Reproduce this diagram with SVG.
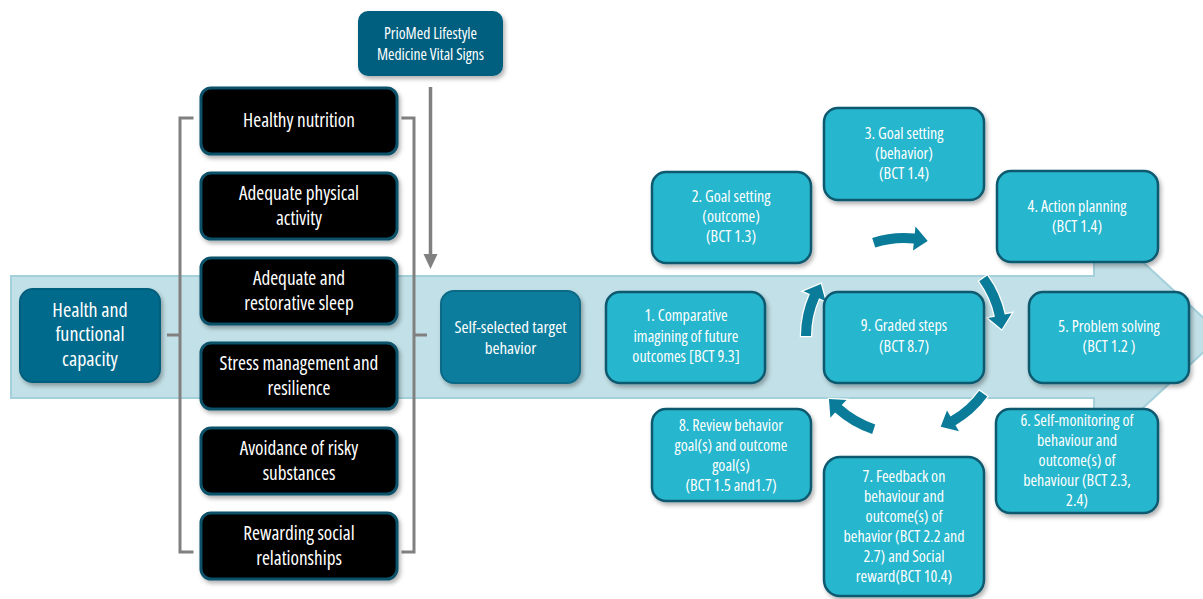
<svg xmlns="http://www.w3.org/2000/svg" width="1203" height="599" viewBox="0 0 1203 599">
<defs>
<filter id="sh" x="-10%" y="-10%" width="125%" height="130%">
<feDropShadow dx="2" dy="3" stdDeviation="2" flood-color="#000" flood-opacity="0.3"/>
</filter>
<path id="carrow" d="M1007,336 A103,103 0 0 1 998.09,377.89 L1004.49,380.74 L987.10,387.93 L982.56,370.98 L988.96,373.82 A93,93 0 0 0 997,336 Z"/>
</defs>
<style>
text{font-family:'Open Sans','DejaVu Sans Condensed',sans-serif;font-stretch:condensed;fill:#fff;text-anchor:middle}
.blk{fill:#000;stroke:#0b5169;stroke-width:3;filter:url(#sh)}
.cyc{fill:#28b6cd;stroke:#0e5a70;stroke-width:2.5;filter:url(#sh)}
.dark{fill:#005f7f;filter:url(#sh)}
.mid{fill:#046b8c;stroke:#045e7b;stroke-width:2;filter:url(#sh)}
.sel{fill:#0b7d9d;stroke:#086a87;stroke-width:2;filter:url(#sh)}
.bt{font-size:19.2px}
.ct{font-size:16px}
.brk{fill:none;stroke:#808080;stroke-width:3}
.ca{fill:#0a7b98;stroke:#fff;stroke-width:2.5;paint-order:stroke}
</style>
<rect width="1203" height="599" fill="#fff"/>
<g id="band">
<polygon points="11,276 1094,276 1094,217 1222,335 1094,453 1094,398 11,398" fill="#c2e0e7" stroke="#a3d0db" stroke-width="2"/>
</g>
<g id="connectors">
<path class="brk" d="M193.5,118 H180 V552 H193.5 M180,335 H167"/>
<path class="brk" d="M401.5,118 H414 V552 H401.5 M414,335 H427"/>
<line x1="430.5" y1="87" x2="430.5" y2="255" stroke="#808080" stroke-width="3.5"/>
<polygon points="423.5,254 437.5,254 430.5,269" fill="#808080"/>
<use href="#carrow" class="ca" transform="rotate(180 904 336)"/>
<use href="#carrow" class="ca" transform="rotate(252 904 336)"/>
<use href="#carrow" class="ca" transform="rotate(324 904 336)"/>
<use href="#carrow" class="ca" transform="rotate(36 904 336)"/>
<use href="#carrow" class="ca" transform="rotate(108 904 336)"/>
</g>
<g id="priomed"><rect class="dark" x="358" y="11" width="145" height="65" rx="10"/><text font-size="15.6"><tspan x="430.5" y="39">PrioMed Lifestyle</tspan><tspan x="430.5" y="59.5">Medicine Vital Signs</tspan></text></g>
<g id="health"><rect class="mid" x="20" y="289" width="140" height="93" rx="13"/><text class="bt" style="font-size:20px"><tspan x="90" y="316.5">Health and</tspan><tspan x="90" y="341">functional</tspan><tspan x="90" y="365.5">capacity</tspan></text></g>
<g id="nutrition"><rect class="blk" x="201" y="88" width="196" height="66" rx="10"/><text class="bt"><tspan x="299" y="127">Healthy nutrition</tspan></text></g>
<g id="physical"><rect class="blk" x="201" y="173" width="196" height="66" rx="10"/><text class="bt"><tspan x="299" y="199.5">Adequate physical</tspan><tspan x="299" y="224.5">activity</tspan></text></g>
<g id="sleep"><rect class="blk" x="201" y="258" width="196" height="66" rx="10"/><text class="bt"><tspan x="299" y="284.5">Adequate and</tspan><tspan x="299" y="309.5">restorative sleep</tspan></text></g>
<g id="stress"><rect class="blk" x="201" y="343" width="196" height="66" rx="10"/><text class="bt"><tspan x="299" y="369.5">Stress management and</tspan><tspan x="299" y="394.5">resilience</tspan></text></g>
<g id="avoid"><rect class="blk" x="201" y="428" width="196" height="66" rx="10"/><text class="bt"><tspan x="299" y="454.5">Avoidance of risky</tspan><tspan x="299" y="479.5">substances</tspan></text></g>
<g id="social"><rect class="blk" x="201" y="513" width="196" height="66" rx="10"/><text class="bt"><tspan x="299" y="539.5">Rewarding social</tspan><tspan x="299" y="564.5">relationships</tspan></text></g>
<g id="target"><rect class="sel" x="441" y="291" width="139" height="92" rx="13"/><text font-size="17"><tspan x="510.5" y="332.5">Self-selected target</tspan><tspan x="510.5" y="353.5">behavior</tspan></text></g>
<g id="s1"><rect class="cyc" x="606" y="292" width="159" height="91" rx="14"/><text class="ct"><tspan x="686" y="321">1. Comparative</tspan><tspan x="686" y="341.5">imagining of future</tspan><tspan x="686" y="362">outcomes [BCT 9.3]</tspan></text></g>
<g id="s2"><rect class="cyc" x="652" y="172" width="159" height="91" rx="14"/><text class="ct"><tspan x="731" y="202">2. Goal setting</tspan><tspan x="731" y="222">(outcome)</tspan><tspan x="731" y="242">(BCT 1.3)</tspan></text></g>
<g id="s3"><rect class="cyc" x="824" y="108" width="160" height="92" rx="14"/><text class="ct"><tspan x="904" y="138.5">3. Goal setting</tspan><tspan x="904" y="158.5">(behavior)</tspan><tspan x="904" y="178.5">(BCT 1.4)</tspan></text></g>
<g id="s4"><rect class="cyc" x="997" y="171" width="161" height="91" rx="14"/><text class="ct"><tspan x="1077" y="212">4. Action planning</tspan><tspan x="1077" y="232">(BCT 1.4)</tspan></text></g>
<g id="s5"><rect class="cyc" x="1029" y="292" width="160" height="91" rx="14"/><text class="ct"><tspan x="1109" y="332">5. Problem solving</tspan><tspan x="1109" y="352">(BCT 1.2 )</tspan></text></g>
<g id="s6"><rect class="cyc" x="996" y="409" width="162" height="104" rx="14"/><text class="ct"><tspan x="1077" y="426">6. Self-monitoring of</tspan><tspan x="1077" y="446">behaviour and</tspan><tspan x="1077" y="466">outcome(s) of</tspan><tspan x="1077" y="486">behaviour (BCT 2.3,</tspan><tspan x="1077" y="506">2.4)</tspan></text></g>
<g id="s7"><rect class="cyc" x="824" y="457" width="160" height="139" rx="16"/><text class="ct"><tspan x="904" y="482">7. Feedback on</tspan><tspan x="904" y="502">behaviour and</tspan><tspan x="904" y="522">outcome(s) of</tspan><tspan x="904" y="542">behavior (BCT 2.2 and</tspan><tspan x="904" y="562">2.7) and Social</tspan><tspan x="904" y="582">reward(BCT 10.4)</tspan></text></g>
<g id="s8"><rect class="cyc" x="652" y="409" width="159" height="92" rx="14"/><text class="ct"><tspan x="731" y="430.5">8. Review behavior</tspan><tspan x="731" y="450.5">goal(s) and outcome</tspan><tspan x="731" y="470.5">goal(s)</tspan><tspan x="731" y="490.5">(BCT 1.5 and1.7)</tspan></text></g>
<g id="s9"><rect class="cyc" x="824" y="292" width="160" height="91" rx="14"/><text class="ct"><tspan x="904" y="331">9. Graded steps</tspan><tspan x="904" y="352">(BCT 8.7)</tspan></text></g>
</svg>
